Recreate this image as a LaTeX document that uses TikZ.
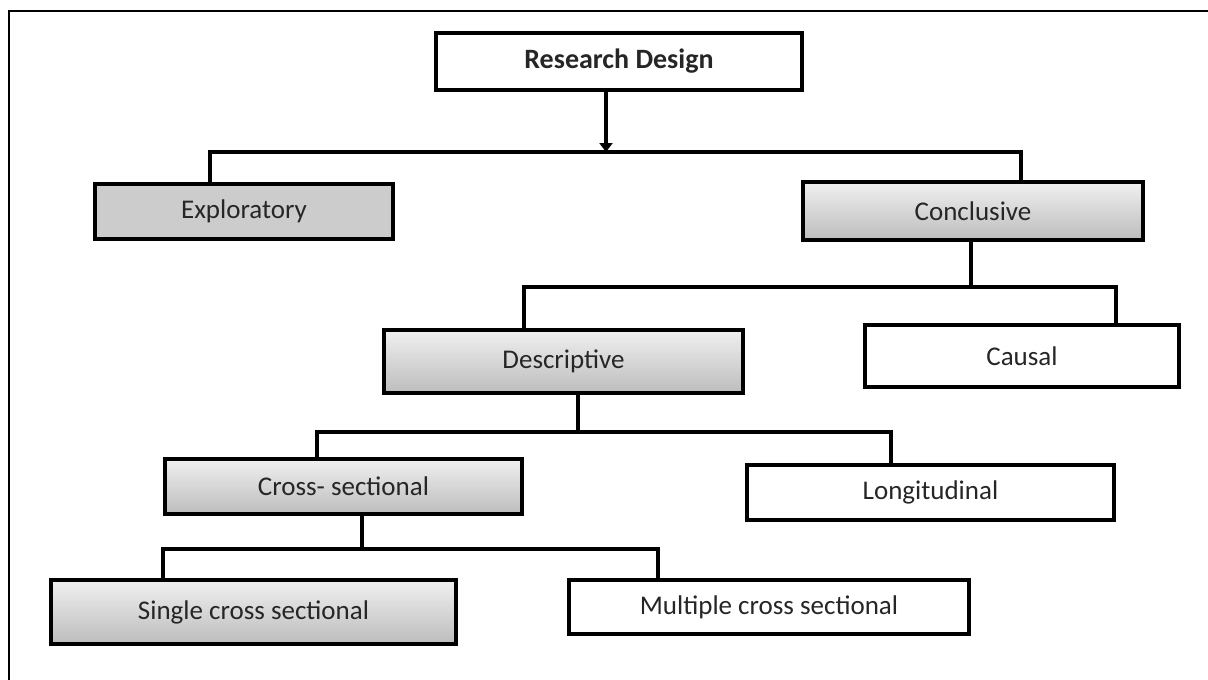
\documentclass[tikz,border=0pt]{standalone}
\usepackage{fontspec}
\setmainfont{Carlito}
\usetikzlibrary{arrows.meta,shadows}
\begin{document}
\begin{tikzpicture}[x=1pt, y=-1pt,
  box/.style={draw, line width=4pt, inner sep=0pt, text=black!85, font=\fontsize{27}{32}\selectfont,
    drop shadow={shadow xshift=1.5pt, shadow yshift=-2pt, fill=gray!60, opacity=0.4}},
  plain/.style={box, fill=white},
  flat/.style={box, fill=gray!40},
  shade/.style={box, top color=gray!12, bottom color=gray!52},
  link/.style={line width=3.5pt}]

\useasboundingbox (0,0) rectangle (1208,680);
\draw[line width=1.3pt] (9,680) -- (9,11) -- (1208,11);

\node[plain, minimum width=366pt, minimum height=57pt, font=\bfseries\fontsize{28}{32}\selectfont] (rd) at (619,61.5) {Research Design};

\node[flat, minimum width=298pt, minimum height=55pt] (expl) at (244,211.5) {Exploratory};
\node[shade, minimum width=340pt, minimum height=58pt] (concl) at (973,211) {Conclusive};

\node[shade, minimum width=359pt, minimum height=63pt] (desc) at (563.5,361.5) {Descriptive};
\node[plain, minimum width=314pt, minimum height=62pt] (causal) at (1022,356) {Causal};

\node[shade, minimum width=357pt, minimum height=55pt] (cross) at (343.5,486.5) {Cross- sectional};
\node[plain, minimum width=367pt, minimum height=55pt] (longi) at (930.5,492.5) {Longitudinal};

\node[shade, minimum width=405pt, minimum height=64pt] (single) at (253.5,612) {Single cross sectional};
\node[plain, minimum width=400pt, minimum height=54pt] (multi) at (769,607) {Multiple cross sectional};

\coordinate (j1) at (606,152);
\coordinate (j2) at (971,287);
\coordinate (j3) at (578,432);
\coordinate (j4) at (362,549);

\draw[link, -{Triangle[length=9pt,width=13pt]}] (rd.south -| j1) -- (j1);
\draw[link] ([xshift=-34pt]expl.north) |- (j1) -| ([xshift=48pt]concl.north);

\draw[link] (concl.south -| j2) -- (j2);
\draw[link] ([xshift=-39.5pt]desc.north) |- (j2) -| ([xshift=94pt]causal.north);

\draw[link] (desc.south -| j3) -- (j3);
\draw[link] ([xshift=-26.5pt]cross.north) |- (j3) -| ([xshift=-39.5pt]longi.north);

\draw[link] (cross.south -| j4) -- (j4);
\draw[link] ([xshift=-90.5pt]single.north) |- (j4) -| ([xshift=-111pt]multi.north);

\end{tikzpicture}
\end{document}
